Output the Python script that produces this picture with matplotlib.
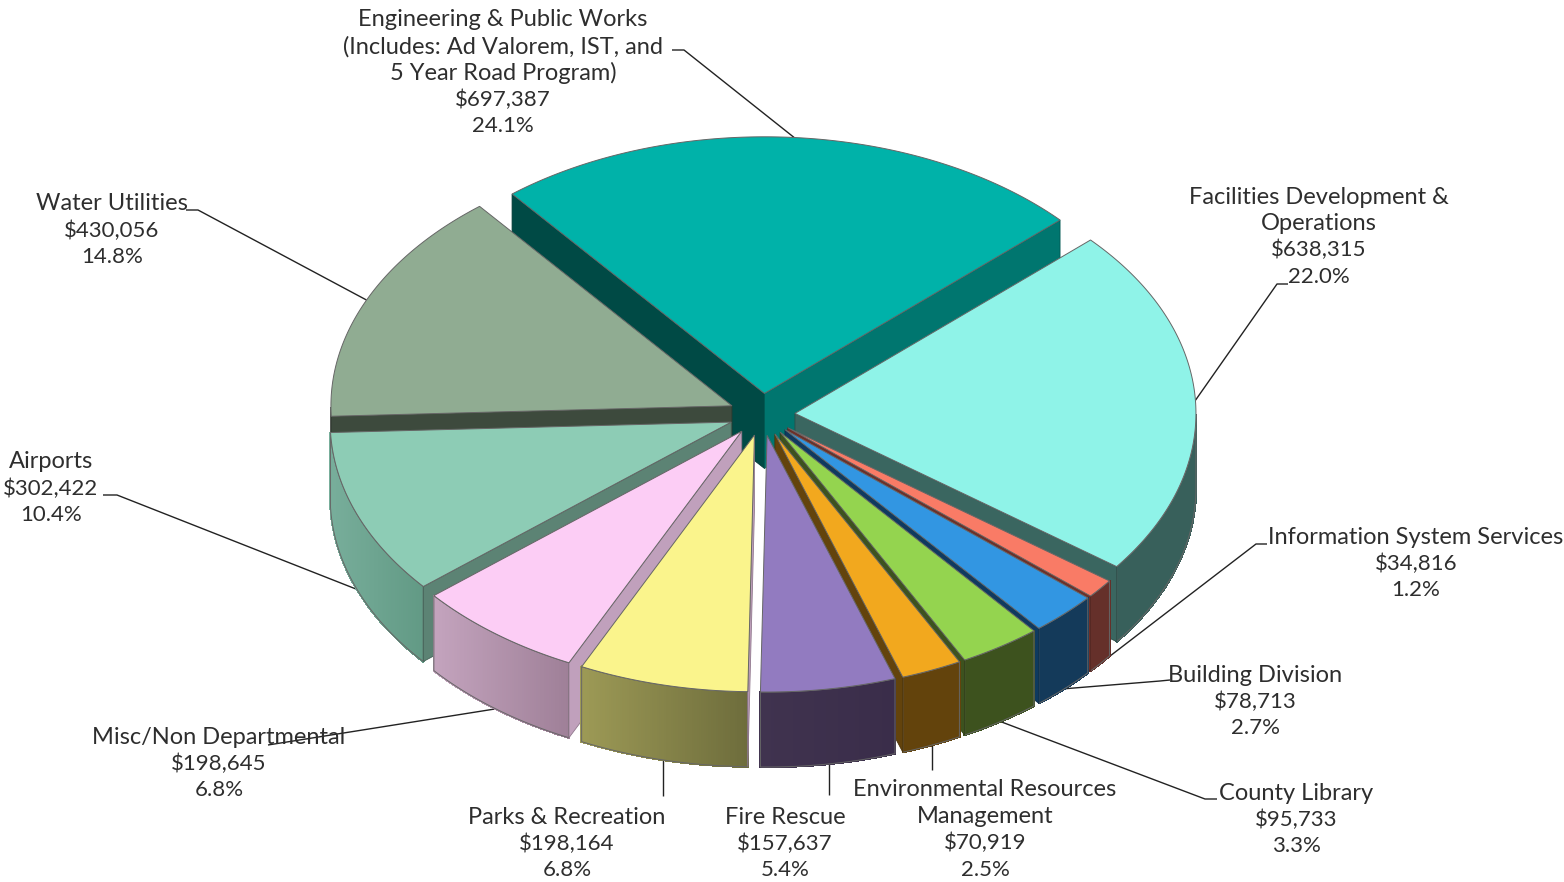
import numpy as np
import matplotlib
matplotlib.use('Agg')
import matplotlib.pyplot as plt
from matplotlib.patches import Polygon
from matplotlib.colors import to_rgb

plt.rcParams['font.family'] = ['Lato', 'DejaVu Sans']

# budget by department, clockwise from the top left
names = [['Engineering & Public Works', '(Includes: Ad Valorem, IST, and', '5 Year Road Program)'],
         ['Facilities Development &', 'Operations'],
         ['Information System Services'],
         ['Building Division'],
         ['County Library'],
         ['Environmental Resources', 'Management'],
         ['Fire Rescue'],
         ['Parks & Recreation'],
         ['Misc/Non Departmental'],
         ['Airports'],
         ['Water Utilities']]
values = [697387, 638315, 34816, 78713, 95733, 70919, 157637, 198164, 198645, 302422, 430056]
percents = ['24.1%', '22.0%', '1.2%', '2.7%', '3.3%', '2.5%', '5.4%', '6.8%', '6.8%', '10.4%', '14.8%']

top_colors = ['#00B2A9', '#8FF3E8', '#F97B66', '#3296E2', '#94D44F', '#F2A81E',
              '#927BC0', '#FAF48C', '#FCCDF5', '#8DCCB5', '#90AC92']
wall_left = ['#00766F', '#38605B', '#65302A', '#143A5A', '#3D521E', '#63430C',
             '#40334F', '#9D9A56', '#C4A4BE', '#78AE9B', '#3D4A3D']
wall_right = ['#00766F', '#38605B', '#65302A', '#143A5A', '#3D521E', '#63430C',
              '#3A2D4A', '#6E6D3C', '#9F8098', '#629A85', '#3D4A3D']
cut_start = ['#004A45', '#3A6660', '#6E2F28', '#0F3A5F', '#3D521E', '#63430C',
             '#3E3150', '#C0A0BC', '#C0A0BC', '#5C8374', '#3D4A3D']
cut_end = ['#00766F', '#3A6660', '#6E2F28', '#0F3A5F', '#3D521E', '#63430C',
           '#3E3150', '#C0A0BC', '#C0A0BC', '#5C8374', '#3D4A3D']

# label block: centre x, y of the first line
label_x = [503, 1319, 1416, 1255, 1296, 985, 785, 567, 219, 51, 112]
label_y = [20, 197, 537, 675, 793, 790, 817, 817, 737, 462, 204]
# leader lines, label side first; None on the far end means a plain vertical drop
leaders = [[(672, 50), (684, 50)], [(1288, 284), (1277, 284)], [(1267, 544), (1256, 544)],
           [(1170, 680), (1160, 681)], [(1217, 799), (1205, 799)], [(None, 770)],
           [(None, 795)], [(None, 796)], [(268, 745)], [(103, 495), (117, 495)],
           [(186, 210), (198, 210)]]

CX, CY = 762, 414.5
RX = 401
SQUASH = 0.64
DEPTH = 75
EXPLODE = 33
START = 129.0
EDGE = '#666666'


def rim(apex, ang, drop=0):
    a = np.radians(ang)
    return np.column_stack([apex[0] + RX * np.cos(a), apex[1] - RX * SQUASH * np.sin(a) + drop])


fig = plt.figure(figsize=(15.64, 8.82), dpi=100)
ax = fig.add_axes([0, 0, 1, 1])
ax.set_xlim(0, 1564)
ax.set_ylim(882, 0)
ax.axis('off')

total = sum(values)
spans = [v / total * 360 for v in values]
starts = START - np.cumsum([0] + spans[:-1])
ends = starts - np.array(spans)
mids = (starts + ends) / 2

apexes = []
for m in mids:
    a = np.radians(m)
    apexes.append((CX + EXPLODE * np.cos(a), CY - EXPLODE * SQUASH * np.sin(a)))

# back slices first so the front ones paint over them
order = np.argsort(-np.sin(np.radians(mids)))

for i in order:
    s, e = starts[i], ends[i]
    apex = apexes[i]
    z = 2 + list(order).index(i)

    # outer wall, in thin strips to get the shading across it
    arc = np.linspace(e, s, max(int(s - e) * 3, 2) + 1)
    arc = arc[np.sin(np.radians(arc)) <= 0.0]
    if len(arc) > 1:
        # wall runs left to right on screen
        pts = rim(apex, arc)
        x0, x1 = pts[:, 0].min(), pts[:, 0].max()
        c0, c1 = np.array(to_rgb(wall_left[i])), np.array(to_rgb(wall_right[i]))
        for k in range(len(arc) - 1):
            seg = rim(apex, arc[k:k + 2])
            t = (seg[:, 0].mean() - x0) / max(x1 - x0, 1)
            col = c0 + (c1 - c0) * t
            quad = np.vstack([seg, seg[::-1] + [0, DEPTH]])
            ax.add_patch(Polygon(quad, closed=True, fc=col, ec=col, lw=1.0,
                                 antialiased=False, zorder=z))
        outline = np.vstack([pts, pts[::-1] + [0, DEPTH]])
        ax.add_patch(Polygon(outline, closed=True, fc='none', ec=EDGE, lw=0.7, zorder=z))

    # cut faces that look towards the viewer
    for ang, col, show in [(s, cut_start[i], np.cos(np.radians(s)) < 0),
                           (e, cut_end[i], np.cos(np.radians(e)) > 0)]:
        if show:
            p = rim(apex, [ang])[0]
            quad = [apex, p, (p[0], p[1] + DEPTH), (apex[0], apex[1] + DEPTH)]
            ax.add_patch(Polygon(quad, closed=True, fc=col, ec=np.array(to_rgb(col)) * 0.75,
                                 lw=0.6, zorder=z))

    # top face
    arc = np.linspace(s, e, max(int(s - e) * 2, 8))
    top = np.vstack([[apex], rim(apex, arc)])
    ax.add_patch(Polygon(top, closed=True, fc=top_colors[i], ec=EDGE, lw=0.7, zorder=z))

# leaders run from the label to the rim at each slice's middle angle
for i in range(len(values)):
    ang = mids[i]
    drop = DEPTH if np.sin(np.radians(ang)) < 0 else 0
    end = rim(apexes[i], [ang], drop)[0]
    xs, ys = [], []
    for px, py in leaders[i]:
        xs.append(end[0] if px is None else px)
        ys.append(py)
    xs.append(end[0])
    ys.append(end[1])
    ax.plot(xs, ys, color='#222222', lw=1.0, zorder=1, solid_capstyle='butt')

# labels, one line at a time; the figures run a little smaller than the names
for i in range(len(values)):
    n_names = len(names[i])
    lines = names[i] + ['${:,}'.format(values[i]), percents[i]]
    for n, line in enumerate(lines):
        ax.text(label_x[i], label_y[i] + n * 26.6, line, ha='center', va='center',
                fontsize=17 if n < n_names else 16, color='#2e2e2e', zorder=50)

fig.savefig('out.png', dpi=100)
